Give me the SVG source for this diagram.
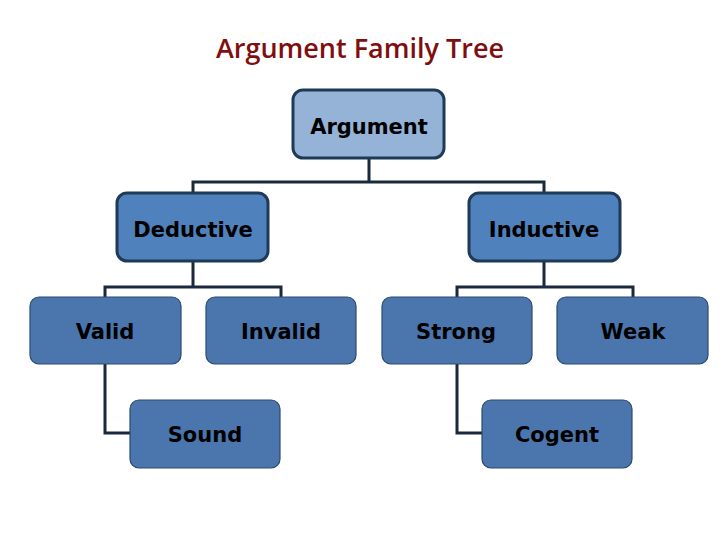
<svg xmlns="http://www.w3.org/2000/svg" width="720" height="540" viewBox="0 0 720 540">
<style>
.top{fill:#95b3d7;stroke:#1f3a56;stroke-width:3}
.mid{fill:#4f81bd;stroke:#1f3a56;stroke-width:3}
.low{fill:#4a76ad;stroke:#2c4a6e;stroke-width:1.2}
text{font-family:"DejaVu Sans",Verdana,sans-serif;font-weight:bold;font-size:21px;fill:#000;text-anchor:middle}
.t{font-family:"Open Sans","Liberation Sans",sans-serif;font-weight:600;font-size:27px;fill:#7f0f0f}
#connectors path{fill:none;stroke:#1a2a3c;stroke-width:3}
</style>
<rect width="720" height="540" fill="#fff"/>
<text class="t" x="360" y="58">Argument Family Tree</text>
<g id="connectors">
<path d="M369 158V182M193 193V182H544V193"/>
<path d="M193 261V287M105 297V287H281V297"/>
<path d="M544 261V287M457 297V287H633V297"/>
<path d="M105 364V433H130"/>
<path d="M457 364V433H482"/>
</g>
<g id="argument"><rect class="top" x="293" y="90" width="151" height="68" rx="10"/><text x="369" y="134">Argument</text></g>
<g id="deductive"><rect class="mid" x="117" y="193" width="151" height="68" rx="10"/><text x="193" y="237">Deductive</text></g>
<g id="inductive"><rect class="mid" x="469" y="193" width="151" height="68" rx="10"/><text x="544" y="237">Inductive</text></g>
<g id="valid"><rect class="low" x="30" y="297" width="151" height="67" rx="9"/><text x="105" y="339">Valid</text></g>
<g id="invalid"><rect class="low" x="206" y="297" width="150" height="67" rx="9"/><text x="281" y="339">Invalid</text></g>
<g id="strong"><rect class="low" x="382" y="297" width="150" height="67" rx="9"/><text x="456" y="339">Strong</text></g>
<g id="weak"><rect class="low" x="557" y="297" width="151" height="67" rx="9"/><text x="633" y="339">Weak</text></g>
<g id="sound"><rect class="low" x="130" y="400" width="150" height="68" rx="9"/><text x="205" y="442">Sound</text></g>
<g id="cogent"><rect class="low" x="482" y="400" width="150" height="68" rx="9"/><text x="557" y="442">Cogent</text></g>
</svg>
